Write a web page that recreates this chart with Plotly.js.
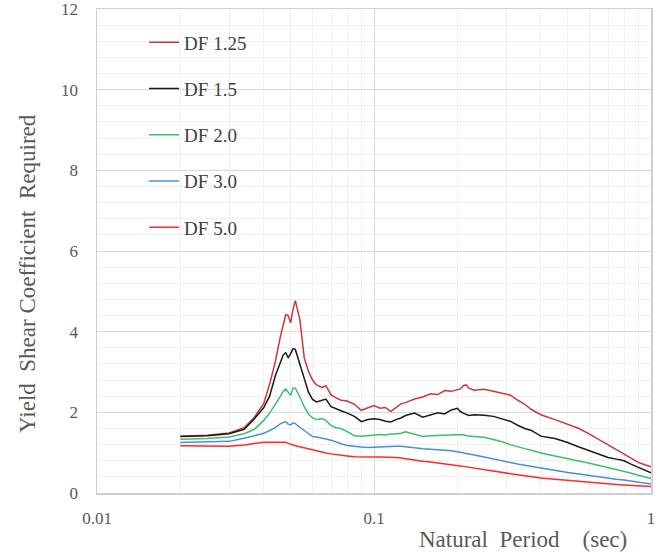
<!DOCTYPE html>
<html>
<head>
<meta charset="utf-8">
<script src="https://cdn.plot.ly/plotly-3.0.1.min.js"></script>
<style>html,body{margin:0;padding:0;background:#fff;}#chart{width:663px;height:552px;}</style>
</head>
<body>
<div id="chart"></div>
<script>
const periods = [0.020,0.025,0.030,0.034,0.037,0.040,0.042,0.044,0.046,0.047,0.048,0.049,0.050,0.051,0.052,0.054,0.056,0.058,0.060,0.062,0.065,0.067,0.070,0.073,0.076,0.080,0.085,0.090,0.095,0.100,0.105,0.110,0.115,0.120,0.125,0.130,0.140,0.150,0.160,0.170,0.180,0.190,0.200,0.205,0.210,0.215,0.220,0.230,0.250,0.270,0.290,0.310,0.330,0.350,0.370,0.400,0.450,0.500,0.550,0.600,0.650,0.700,0.750,0.800,0.850,0.900,0.950,1.000];

const df125 = [1.41,1.43,1.49,1.62,1.88,2.22,2.70,3.25,3.90,4.20,4.42,4.40,4.22,4.55,4.77,4.30,3.35,3.02,2.80,2.68,2.62,2.66,2.43,2.36,2.30,2.28,2.20,2.05,2.12,2.17,2.10,2.12,2.02,2.12,2.21,2.24,2.33,2.38,2.46,2.44,2.54,2.52,2.55,2.58,2.66,2.68,2.60,2.55,2.57,2.52,2.48,2.43,2.30,2.20,2.07,1.94,1.82,1.70,1.60,1.46,1.32,1.20,1.07,0.97,0.86,0.76,0.70,0.65];

const df15 = [1.40,1.42,1.47,1.58,1.84,2.12,2.40,2.90,3.25,3.42,3.48,3.36,3.45,3.58,3.56,3.20,2.80,2.50,2.32,2.26,2.30,2.33,2.14,2.08,2.04,1.98,1.90,1.77,1.82,1.84,1.82,1.78,1.76,1.82,1.86,1.92,1.98,1.88,1.93,1.99,1.96,2.06,2.10,2.02,1.98,1.95,1.92,1.94,1.93,1.90,1.84,1.78,1.68,1.60,1.55,1.41,1.35,1.25,1.14,1.04,0.96,0.88,0.84,0.80,0.71,0.63,0.57,0.50];

const df20 = [1.33,1.35,1.39,1.47,1.58,1.80,1.98,2.18,2.40,2.52,2.58,2.50,2.42,2.60,2.60,2.38,2.14,1.96,1.86,1.82,1.84,1.80,1.67,1.62,1.60,1.52,1.42,1.41,1.43,1.44,1.45,1.44,1.46,1.46,1.48,1.52,1.46,1.40,1.42,1.43,1.43,1.44,1.44,1.46,1.45,1.42,1.41,1.40,1.38,1.33,1.27,1.20,1.14,1.10,1.06,0.99,0.92,0.86,0.80,0.74,0.68,0.63,0.58,0.54,0.49,0.44,0.40,0.36];

const df30 = [1.25,1.26,1.28,1.36,1.43,1.48,1.55,1.62,1.72,1.75,1.77,1.71,1.69,1.74,1.72,1.63,1.55,1.46,1.40,1.39,1.37,1.34,1.31,1.26,1.22,1.18,1.15,1.14,1.13,1.14,1.15,1.15,1.16,1.16,1.16,1.14,1.12,1.10,1.08,1.07,1.06,1.05,1.03,1.02,1.00,0.98,0.96,0.94,0.89,0.84,0.79,0.75,0.72,0.69,0.66,0.62,0.56,0.51,0.47,0.43,0.39,0.36,0.34,0.32,0.29,0.26,0.24,0.22];

const df50 = [1.17,1.16,1.16,1.19,1.23,1.26,1.26,1.26,1.26,1.26,1.26,1.23,1.20,1.19,1.17,1.14,1.12,1.09,1.07,1.05,1.01,0.99,0.97,0.95,0.94,0.92,0.90,0.89,0.89,0.89,0.89,0.89,0.88,0.88,0.87,0.85,0.82,0.79,0.77,0.75,0.72,0.70,0.68,0.67,0.66,0.65,0.64,0.62,0.58,0.55,0.51,0.48,0.45,0.42,0.40,0.37,0.34,0.31,0.28,0.26,0.24,0.22,0.21,0.20,0.19,0.18,0.17,0.16];

const seriesNames = ['DF 1.25','DF 1.5','DF 2.0','DF 3.0','DF 5.0'];
const seriesValues = [df125, df15, df20, df30, df50];
const seriesColors = ['#C8383A','#1a1a1a','#3DBE6E','#4A8FD6','#FF2B2B'];

const xTickVals = [0.01, 0.1, 1];
const xTickText = ['0.01', '0.1', '1'];
const yTickVals = [0, 2, 4, 6, 8, 10, 12];

const traces = seriesNames.map((n, i) => ({
  x: periods, y: seriesValues[i], name: n, type: 'scatter', mode: 'lines',
  line: {color: seriesColors[i], width: 1.5},
  legendgroup: 'g' + i
}));

const serif = 'Liberation Serif, Times New Roman, serif';
const layout = {
  width: 663, height: 552,
  margin: {l: 97, r: 12, t: 9, b: 59},
  paper_bgcolor: '#fff', plot_bgcolor: '#fff',
  font: {family: serif, color: '#595959', size: 17},
  showlegend: true,
  legend: {
    x: 0.085, y: 0.970, xanchor: 'left', yanchor: 'top',
    bgcolor: 'rgba(0,0,0,0)', borderwidth: 0,
    font: {family: serif, size: 19, color: '#404040'},
    tracegroupgap: 18.5, traceorder: 'grouped'
  },
  xaxis: {
    type: 'log', range: [-2, 0],
    tickvals: xTickVals, ticktext: xTickText,
    showgrid: true, gridcolor: '#d9d9d9', gridwidth: 1,
    minor: {tickvals: [0.02,0.03,0.04,0.05,0.06,0.07,0.08,0.09,0.2,0.3,0.4,0.5,0.6,0.7,0.8,0.9], showgrid: true, gridcolor: '#f0f0f0', gridwidth: 1, ticks: ''},
    showline: true, linecolor: '#cfcfcf', linewidth: 1.5, mirror: true,
    ticks: '', ticklabelstandoff: 9,
    zeroline: false,
    tickfont: {family: serif, size: 17, color: '#595959'}
  },
  yaxis: {
    range: [0, 12], tickvals: yTickVals,
    showgrid: true, gridcolor: '#d9d9d9', gridwidth: 1,
    minor: {dtick: 0.4, showgrid: true, gridcolor: '#f0f0f0', gridwidth: 1, ticks: ''},
    showline: true, linecolor: '#cfcfcf', linewidth: 1.5, mirror: true,
    ticks: '', ticklabelstandoff: 14, ticklabeloverflow: 'allow',
    zeroline: false,
    tickfont: {family: serif, size: 17, color: '#595959'}
  },
  annotations: [
    {text: 'Natural\u00a0 Period\u00a0\u00a0\u00a0\u00a0(sec)', xref: 'paper', yref: 'paper',
     x: 0.769, y: -0.097, xanchor: 'center', yanchor: 'middle', showarrow: false,
     font: {family: serif, size: 23, color: '#595959'}},
    {text: 'Yield\u00a0 Shear Coefficient\u00a0 Required', xref: 'paper', yref: 'paper',
     x: -0.1245, y: 0.4525, xanchor: 'center', yanchor: 'middle', showarrow: false, textangle: -90,
     font: {family: serif, size: 23, color: '#595959'}}
  ]
};

Plotly.newPlot('chart', traces, layout, {displayModeBar: false, staticPlot: true});
</script>
</body>
</html>
